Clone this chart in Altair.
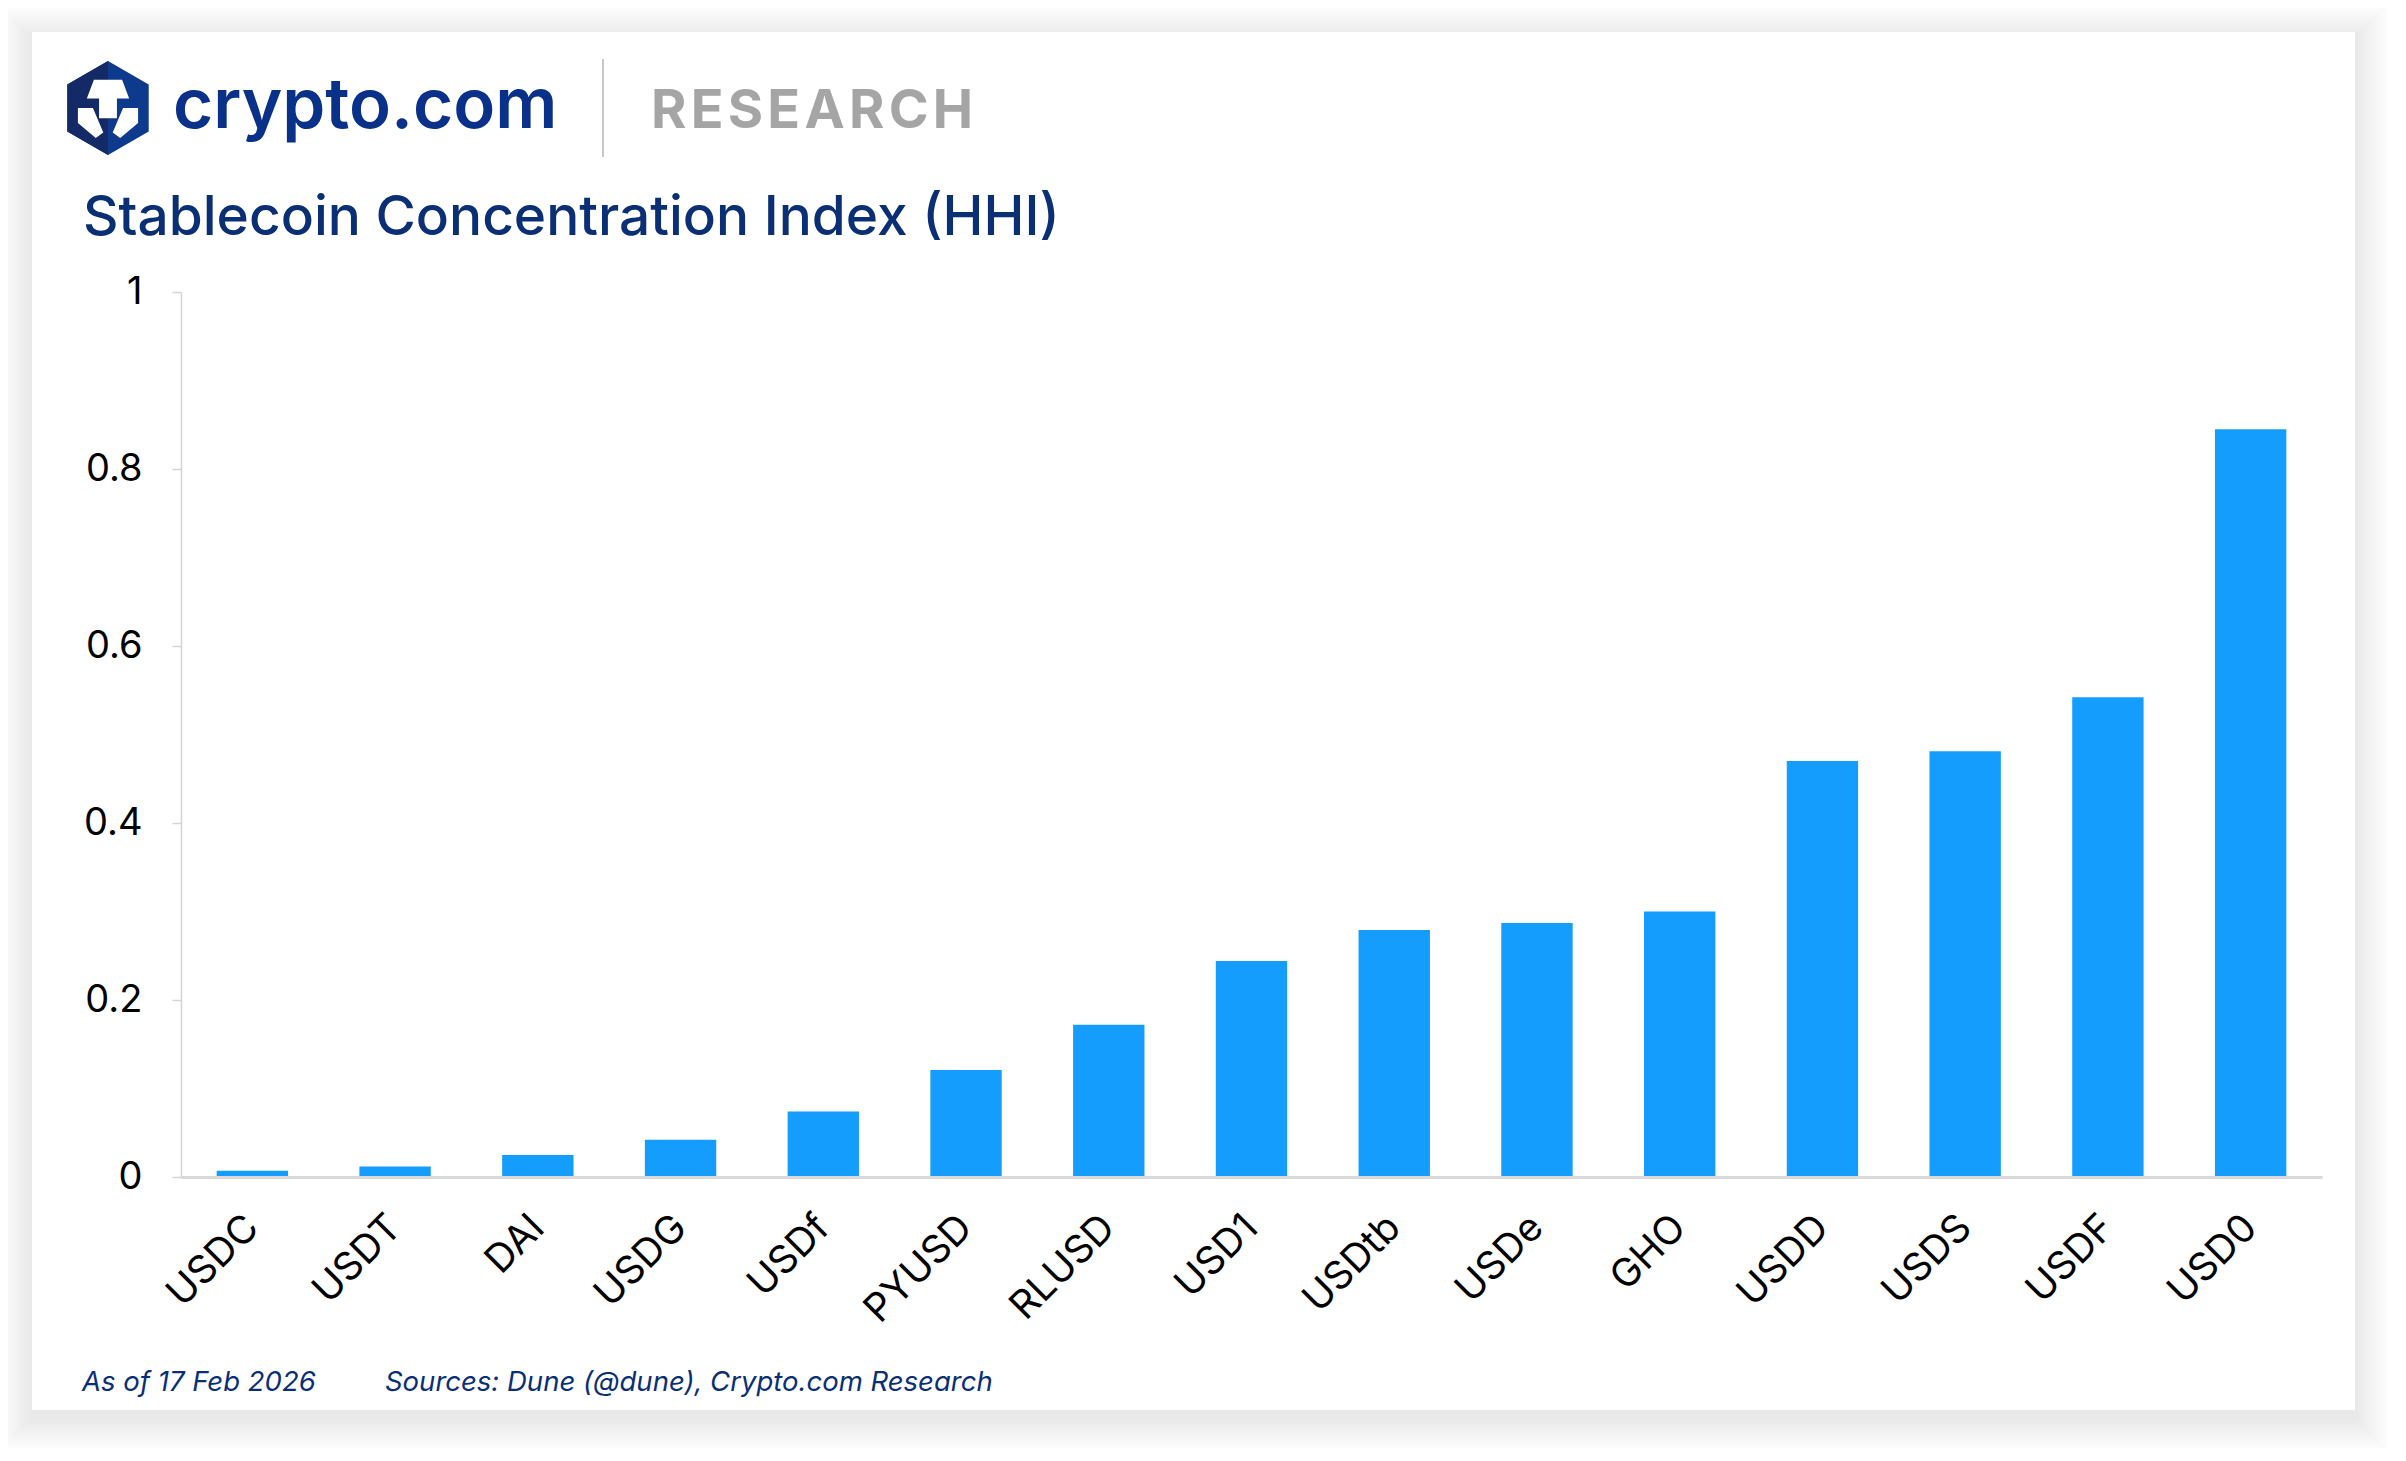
import altair as alt
import pandas as pd

# ---- data ----
coins = ["USDC", "USDT", "DAI", "USDG", "USDf", "PYUSD", "RLUSD", "USD1",
         "USDtb", "USDe", "GHO", "USDD", "USDS", "USDF", "USD0"]
hhi = [0.007, 0.012, 0.025, 0.042, 0.074, 0.121, 0.172, 0.244,
       0.279, 0.287, 0.300, 0.470, 0.481, 0.542, 0.845]
y_ticks = [0, 0.2, 0.4, 0.6, 0.8, 1]

title_text = "Stablecoin Concentration Index (HHI)"
brand_text = "crypto.com"
research_text = "\u200a".join("RESEARCH")
date_text = "As of 17 Feb 2026"
source_text = "Sources: Dune (@dune), Crypto.com Research"

# ---- style ----
W, H = 2141, 885
PAD = {"left": 173, "top": 284, "right": 74, "bottom": 271}
NAVY = "#0a2f75"
BAR = "#159dfd"
FONT = "Inter"

df = pd.DataFrame({"coin": coins, "hhi": hhi})
one = pd.DataFrame({"k": [0]})


def deco_rect(x, x2, y, y2, color, opacity=1.0):
    return alt.Chart(one).mark_rect(color=color, opacity=opacity).encode(
        x=alt.value(x), x2=alt.value(x2), y=alt.value(y), y2=alt.value(y2))


def label(text, x, y, size, weight="normal", color=NAVY, style="normal"):
    return alt.Chart(one).mark_text(
        text=text, font=FONT, fontSize=size, fontWeight=weight, color=color,
        fontStyle=style, align="left", baseline="alphabetic"
    ).encode(x=alt.value(x), y=alt.value(y))


# card with soft (layered) shadow, offset slightly downward
CX0, CX1, CY0, CY1 = -149, 2174, -260, 1118
shadows = []
for i in range(1, 12):
    g = 3 * i
    shadows.append(deco_rect(CX0 - g, CX1 + g, CY0 - g + 6, CY1 + g + 8, "#000000", 0.0085))
card = deco_rect(CX0, CX1, CY0, CY1, "#ffffff")

# logo
HEX = "M0,-1 L0.866,-0.5 L0.866,0.5 L0,1 L-0.866,0.5 L-0.866,-0.5 Z"
HEX_LEFT = "M0,-1 L-0.866,-0.5 L-0.866,0.5 L0,1 Z"
LION = ("M-0.3,-0.6 L0.3,-0.6 L0.45,-0.2 L-0.45,-0.2 Z "
        "M-0.19,-0.2 L0.19,-0.2 L0.19,0.22 L-0.19,0.22 Z "
        "M-0.64,0.0 L-0.32,0.0 L-0.1,0.52 L-0.26,0.64 L-0.64,0.32 Z "
        "M0.64,0.0 L0.32,0.0 L0.1,0.52 L0.26,0.64 L0.64,0.32 Z")


def logo_part(path, color):
    return alt.Chart(one).mark_point(
        shape=path, size=8836, filled=True, color=color, opacity=1, strokeWidth=0
    ).encode(x=alt.value(-73), y=alt.value(-184))


logo = [logo_part(HEX, "#0d3a8c"), logo_part(HEX_LEFT, "#142a66"), logo_part(LION, "#ffffff")]

separator = alt.Chart(one).mark_rule(color="#c8c8c8", strokeWidth=2).encode(
    x=alt.value(422), y=alt.value(-233), y2=alt.value(-135))

texts = [
    label(brand_text, -8, -164, 69, 600, "#0a3189"),
    label(research_text, 470, -164, 54, "bold", "#a5a5a5"),
    label(title_text, -98, -57, 55, 500, NAVY),
    label(date_text, -99, 1099, 27.5, "normal", NAVY, "italic"),
    label(source_text, 204, 1099, 27.5, "normal", NAVY, "italic"),
]

bars = alt.Chart(df).mark_bar(color=BAR).encode(
    x=alt.X("coin:N", sort=coins, title=None,
            scale=alt.Scale(paddingInner=0.5, paddingOuter=0.25),
            axis=alt.Axis(labelAngle=-45, labelAlign="right", labelBaseline="middle",
                          labelFont=FONT, labelFontSize=39, labelColor="#000000",
                          labelPadding=44, ticks=False, tickSize=0,
                          domainColor="#d9d9d9", domainWidth=3, grid=False, zindex=2)),
    y=alt.Y("hhi:Q", title=None,
            scale=alt.Scale(domain=[0, 1], nice=False),
            axis=alt.Axis(values=y_ticks, format="~f", labelFont=FONT, labelFontSize=38,
                          labelColor="#000000", labelPadding=30, tickSize=9,
                          tickColor="#d4d4d4", tickWidth=1.5, domainColor="#d4d4d4",
                          domainWidth=1.5, grid=False, zindex=2)),
)

chart = alt.layer(*shadows, card, *logo, separator, *texts, bars).properties(
    width=W, height=H, padding=PAD,
    autosize=alt.AutoSizeParams(type="none"),
    background="#ffffff",
).configure_view(stroke=None)

chart.save("out.html", embed_options={"renderer": "svg", "actions": False})
